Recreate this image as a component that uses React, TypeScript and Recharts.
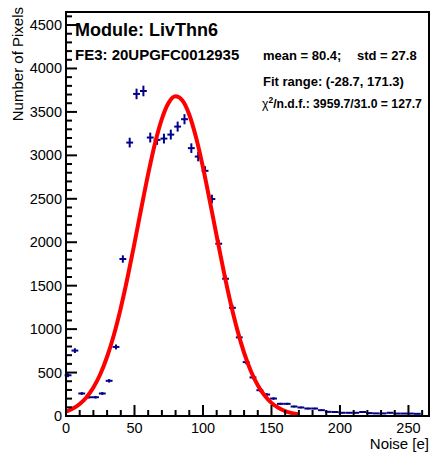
import { ComposedChart, Scatter, Line, XAxis, YAxis, ErrorBar, ReferenceArea } from 'recharts';

// histogram bin centres (Noise [e]) and counts
const binCenters = [
  1.5, 6.5, 11.5, 16.5, 21.5, 26.5, 31.5, 36.5, 41.5, 46.5,
  51.5, 56.5, 61.5, 66.5, 71.5, 76.5, 81.5, 86.5, 91.5, 96.5,
  101.5, 106.5, 111.5, 116.5, 121.5, 126.5, 131.5, 136.5, 141.5, 146.5,
  151.5, 156.5, 161.5, 166.5, 171.5, 176.5, 181.5, 186.5, 191.5, 196.5,
  201.5, 206.5, 211.5, 216.5, 221.5, 226.5, 231.5, 236.5, 241.5, 246.5,
  251.5, 256.5,
];
const counts = [
  469, 753, 259, 216, 216, 259, 405, 795, 1807, 3147,
  3707, 3741, 3205, 3178, 3193, 3239, 3331, 3416, 3083, 2986,
  2822, 2497, 1983, 1580, 1245, 905, 620, 444, 297, 247,
  201, 140, 140, 109, 98, 86, 86, 67, 48, 46,
  37, 37, 37, 46, 33, 30, 30, 37, 28, 28,
  28, 25,
];
const binHalfWidth = 2.5;

// gaussian fit curve
const fitX = [
  0, 5, 10, 15, 20, 25, 30, 35, 40, 45, 50, 55, 60, 65, 70, 75, 80, 85,
  90, 95, 100, 105, 110, 115, 120, 125, 130, 135, 140, 145, 150, 155, 160, 165, 170,
];
const fitY = [
  51, 85, 138, 216, 327, 480, 682, 936, 1244, 1600, 1990, 2394, 2787, 3140, 3421, 3607, 3679, 3631,
  3467, 3202, 2862, 2474, 2070, 1676, 1312, 994, 728, 516, 354, 235, 151, 94, 56, 33, 18,
];

const yMajor = [0, 500, 1000, 1500, 2000, 2500, 3000, 3500, 4000, 4500];
const xMajor = [0, 50, 100, 150, 200, 250];

const X_MAX = 265;
const Y_MAX = 4650;
const yTicks = Array.from({ length: 47 }, (_, i) => i * 100);
const xTicks = Array.from({ length: 27 }, (_, i) => i * 10);

const FONT = '"Liberation Sans", Arial, Helvetica, sans-serif';
const POINT_COLOR = '#00008b';

const histData = binCenters.map((x, i) => ({
  x,
  y: counts[i],
  ex: binHalfWidth,
  ey: Math.sqrt(counts[i]),
}));
const fitData = fitX.map((x, i) => ({ x, fit: fitY[i] }));

function YTick(props: any) {
  const { x, y, payload } = props;
  const v = payload.value as number;
  const major = yMajor.includes(v);
  return (
    <g>
      <line x1={x} x2={x + (major ? 11 : 6)} y1={y} y2={y} stroke="#000" strokeWidth={2} />
      {major && (
        <text x={x - 4} y={y + 5} textAnchor="end" fontSize={14.5} fontFamily={FONT} fill="#000">
          {v}
        </text>
      )}
    </g>
  );
}

function XTick(props: any) {
  const { x, y, payload } = props;
  const v = payload.value as number;
  const major = xMajor.includes(v);
  return (
    <g>
      <line x1={x} x2={x} y1={y} y2={y - (major ? 11 : 6)} stroke="#000" strokeWidth={2} />
      {major && (
        <text x={x} y={y + 17} textAnchor="middle" fontSize={14.5} fontFamily={FONT} fill="#000">
          {v}
        </text>
      )}
    </g>
  );
}

function Point() {
  return <g />;
}

export default function App() {
  return (
    <div style={{ position: 'absolute', left: 0, top: 0, width: 431, height: 453, background: '#fff' }}>
      <ComposedChart
        width={431}
        height={453}
        margin={{ top: 12, right: 2, bottom: 7, left: 6 }}
        style={{ position: 'absolute', left: 0, top: 0 }}
      >
        <XAxis
          type="number"
          dataKey="x"
          domain={[0, X_MAX]}
          ticks={xTicks}
          interval={0}
          tick={<XTick />}
          tickLine={false}
          tickSize={0}
          tickMargin={0}
          axisLine={{ stroke: '#000', strokeWidth: 2 }}
          allowDataOverflow
          height={30}
        />
        <YAxis
          type="number"
          domain={[0, Y_MAX]}
          ticks={yTicks}
          interval={0}
          tick={<YTick />}
          tickLine={false}
          tickSize={0}
          tickMargin={0}
          axisLine={{ stroke: '#000', strokeWidth: 2 }}
          allowDataOverflow
          width={60}
        />
        <ReferenceArea
          x1={0}
          x2={X_MAX}
          y1={0}
          y2={Y_MAX}
          fill="none"
          fillOpacity={0}
          stroke="#000"
          strokeWidth={2}
          ifOverflow="visible"
        />
        <Scatter data={histData} dataKey="y" shape={<Point />} isAnimationActive={false}>
          <ErrorBar dataKey="ex" direction="x" width={0} stroke={POINT_COLOR} strokeWidth={2} />
          <ErrorBar dataKey="ey" direction="y" width={0} stroke={POINT_COLOR} strokeWidth={2} />
        </Scatter>
        <Line
          data={fitData}
          dataKey="fit"
          type="monotone"
          dot={false}
          stroke="#ff0000"
          strokeWidth={4}
          isAnimationActive={false}
        />
      </ComposedChart>
      <svg
        width={431}
        height={453}
        style={{ position: 'absolute', left: 0, top: 0, pointerEvents: 'none' }}
        fontFamily={FONT}
      >
        <text x={23} y={7} transform="rotate(-90 23 7)" textAnchor="end" fontSize={15} fill="#000">
          Number of Pixels
        </text>
        <text x={429} y={449} textAnchor="end" fontSize={15} fill="#000">
          Noise [e]
        </text>
        <text x={75} y={36} fontSize={18} fontWeight="bold" fill="#000">
          Module: LivThn6
        </text>
        <text x={75} y={60} fontSize={15} fontWeight="bold" fill="#000">
          FE3: 20UPGFC0012935
        </text>
        <text x={263} y={60} fontSize={13} fontWeight="bold" fill="#000">
          mean = 80.4;
        </text>
        <text x={357} y={60} fontSize={13} fontWeight="bold" fill="#000">
          std = 27.8
        </text>
        <text x={263} y={86} fontSize={13} fontWeight="bold" fill="#000">
          Fit range: (-28.7, 171.3)
        </text>
        <text x={262} y={108} fontSize={12.2} fill="#000">
          <tspan fontWeight="normal">χ</tspan>
          <tspan fontSize={8.5} fontWeight="bold" dy={-5}>2</tspan>
          <tspan fontWeight="bold" dy={5}>/n.d.f.: 3959.7/31.0 = 127.7</tspan>
        </text>
      </svg>
    </div>
  );
}
